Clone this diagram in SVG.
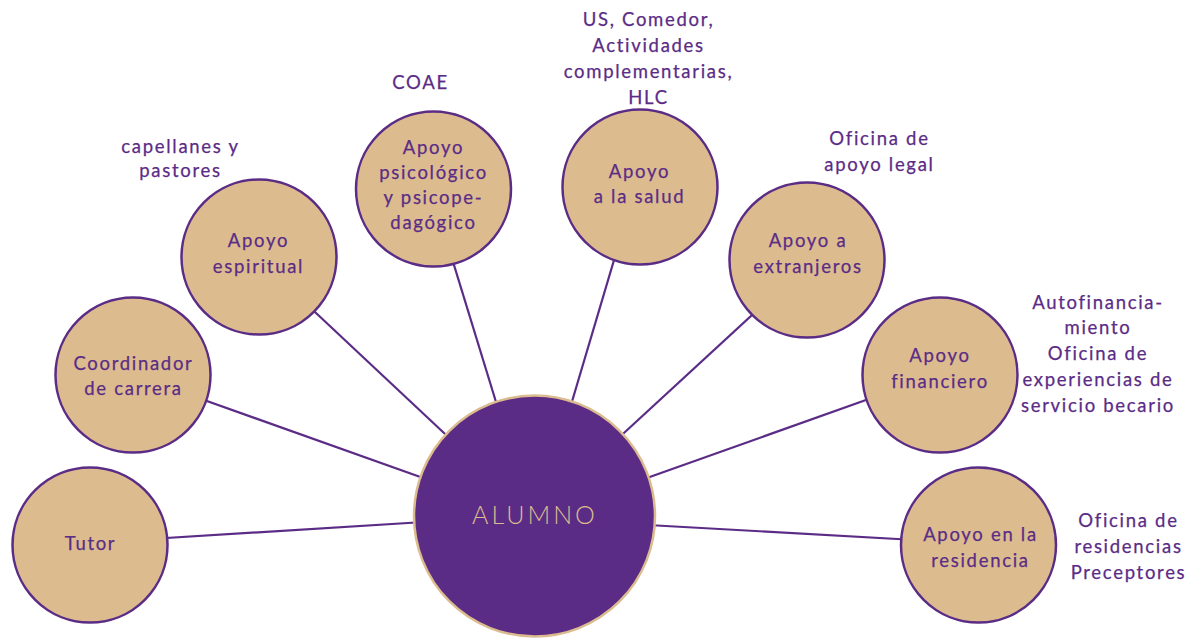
<svg xmlns="http://www.w3.org/2000/svg" width="1196" height="639" viewBox="0 0 1196 639">
  <style>
    .sat { fill: #DCBC8F; stroke: #5B2C86; stroke-width: 2.5; }
    .hub { fill: #5B2C86; stroke: #DCBC8F; stroke-width: 2.5; }
    .link { stroke: #5B2C86; stroke-width: 2.2; fill: none; }
    text { font-family: "Lato", "Noto Sans", sans-serif; font-size: 18.5px; letter-spacing: 1.7px; fill: #5B2C86; text-anchor: middle; stroke: #5B2C86; stroke-width: 0.25; }
    .hubtxt { fill: #DCBC8F; stroke: none; font-size: 25px; font-weight: 300; letter-spacing: 3px; }
  </style>

  <!-- spokes from each support service to the student -->
  <g id="connectors">
    <line class="link" x1="150" y1="539" x2="440" y2="521"/>
    <line class="link" x1="190" y1="395" x2="440" y2="484"/>
    <line class="link" x1="300" y1="298" x2="460" y2="448"/>
    <line class="link" x1="450" y1="252" x2="500" y2="415"/>
    <line class="link" x1="617" y1="250" x2="568" y2="415"/>
    <line class="link" x1="765" y1="303" x2="612" y2="444"/>
    <line class="link" x1="880" y1="395" x2="630" y2="484"/>
    <line class="link" x1="915" y1="540" x2="630" y2="524"/>
  </g>

  <g id="alumno">
    <circle class="hub" cx="534.5" cy="516" r="120.5"/>
    <text class="hubtxt" x="535" y="524">ALUMNO</text>
  </g>

  <g id="tutor">
    <circle class="sat" cx="90" cy="545" r="77.5"/>
    <text x="90.5" y="549.5">Tutor</text>
  </g>

  <g id="coordinador">
    <circle class="sat" cx="133" cy="375" r="77.5"/>
    <text x="133.5" y="369.5">Coordinador</text>
    <text x="133.5" y="395">de carrera</text>
  </g>

  <g id="espiritual">
    <circle class="sat" cx="259" cy="257" r="77.5"/>
    <text x="258.5" y="246.5">Apoyo</text>
    <text x="258.5" y="272.5">espiritual</text>
    <text x="180.5" y="152.5">capellanes y</text>
    <text x="180.5" y="177">pastores</text>
  </g>

  <g id="psicologico">
    <circle class="sat" cx="433.5" cy="189" r="77.5"/>
    <text x="433.5" y="153.5">Apoyo</text>
    <text x="433.5" y="178.5">psicológico</text>
    <text x="433.5" y="203.5">y psicope-</text>
    <text x="433.5" y="228.5">dagógico</text>
    <text x="420.5" y="88.5">COAE</text>
  </g>

  <g id="salud">
    <circle class="sat" cx="640" cy="187" r="77.5"/>
    <text x="639.5" y="178">Apoyo</text>
    <text x="639.5" y="203">a la salud</text>
    <text x="648.5" y="26">US, Comedor,</text>
    <text x="648.5" y="52">Actividades</text>
    <text x="648.5" y="77.5">complementarias,</text>
    <text x="648.5" y="103.5">HLC</text>
  </g>

  <g id="extranjeros">
    <circle class="sat" cx="807" cy="260" r="77.5"/>
    <text x="808" y="247">Apoyo a</text>
    <text x="808" y="273">extranjeros</text>
    <text x="879.5" y="145">Oficina de</text>
    <text x="879.5" y="171">apoyo legal</text>
  </g>

  <g id="financiero">
    <circle class="sat" cx="940" cy="375" r="77.5"/>
    <text x="940" y="362">Apoyo</text>
    <text x="940" y="387.5">financiero</text>
    <text x="1098" y="308.5">Autofinancia-</text>
    <text x="1098" y="334">miento</text>
    <text x="1098" y="360">Oficina de</text>
    <text x="1098" y="386">experiencias de</text>
    <text x="1098" y="412">servicio becario</text>
  </g>

  <g id="residencia">
    <circle class="sat" cx="978.5" cy="545" r="77.5"/>
    <text x="980.5" y="541">Apoyo en la</text>
    <text x="980.5" y="567">residencia</text>
    <text x="1128.5" y="527">Oficina de</text>
    <text x="1128.5" y="553">residencias</text>
    <text x="1128.5" y="578.5">Preceptores</text>
  </g>
</svg>
